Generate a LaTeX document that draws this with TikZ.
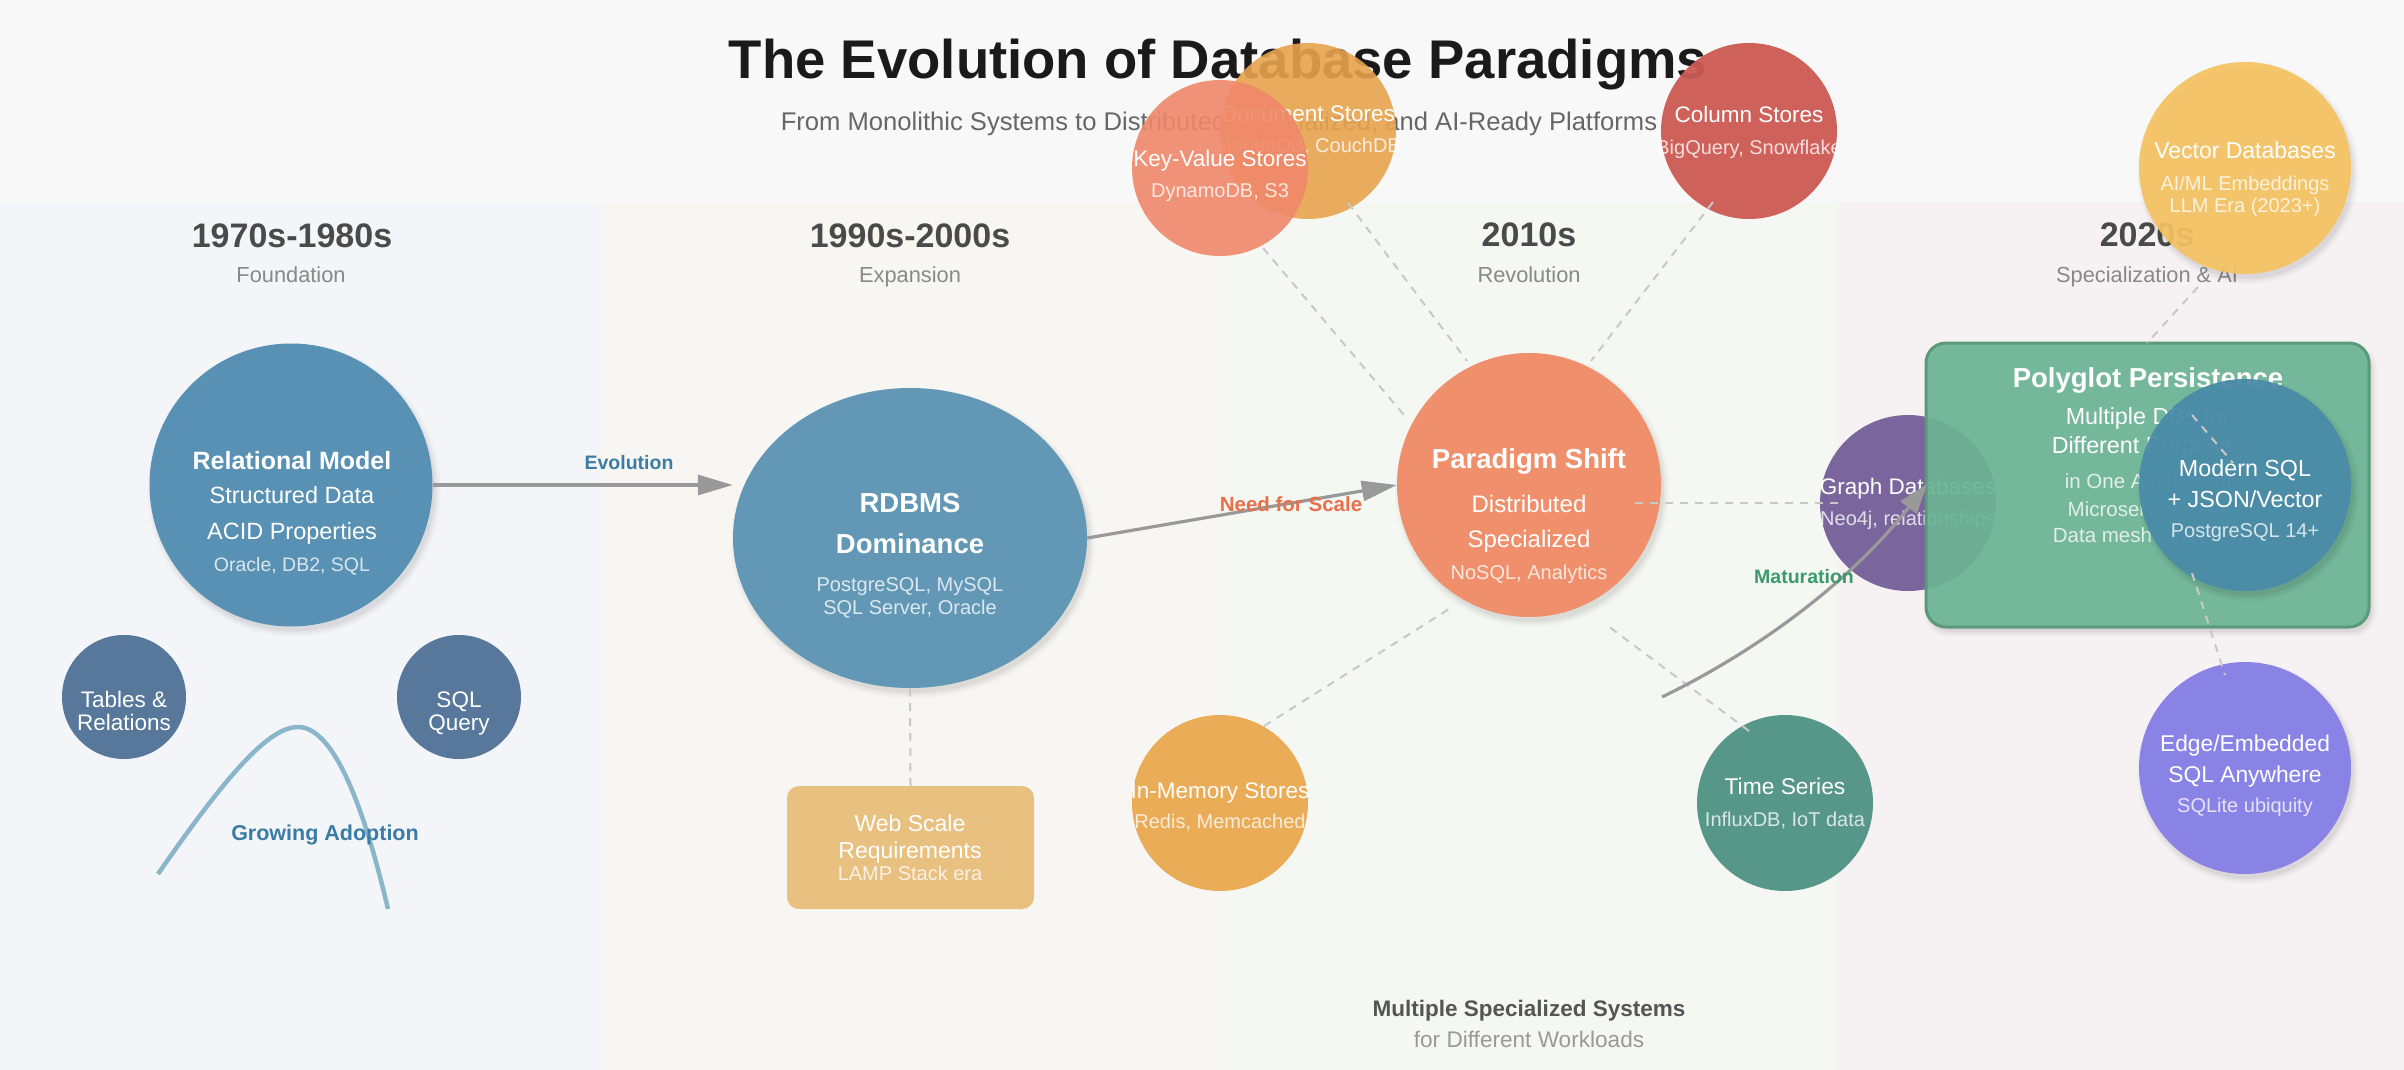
\documentclass[tikz,border=0pt]{standalone}
\usepackage{fontspec}
\setmainfont{Liberation Sans}
\usetikzlibrary{shapes.geometric,arrows.meta}
\newcommand\fsz[1]{\fontsize{#1}{#1}\selectfont}
\newcommand\shadcirc[3]{\foreach \k/\o in {5/0.025,2.5/0.035,0/0.05} {\fill[black, opacity=\o] (#1+3,#2+5) circle[radius=#3+\k];}}
\newcommand\shadell[4]{\foreach \k/\o in {5/0.025,2.5/0.035,0/0.05} {\fill[black, opacity=\o] (#1+3,#2+5) ellipse[x radius=#3+\k, y radius=#4+\k];}}
\newcommand\shadrect[4]{\foreach \k/\o in {5/0.025,2.5/0.035,0/0.05} {\fill[black, opacity=\o, rounded corners=20pt+\k pt] (#1+3-\k,#2+5-\k) rectangle (#3+3+\k,#4+5+\k);}}
\definecolor{hdrc}{HTML}{F8F8F8}
\definecolor{banda}{HTML}{F4F5F9}
\definecolor{bandb}{HTML}{F7F6F2}
\definecolor{bandc}{HTML}{F5F7F3}
\definecolor{bandd}{HTML}{F6F2F3}
\definecolor{titlec}{HTML}{1A1A1A}
\definecolor{subc}{HTML}{666666}
\definecolor{erac}{HTML}{4A4A4A}
\definecolor{erasc}{HTML}{888888}
\definecolor{relc}{HTML}{5891B3}
\definecolor{smallc}{HTML}{57789A}
\definecolor{rdbc}{HTML}{6298B6}
\definecolor{webc}{HTML}{E8C080}
\definecolor{psc}{HTML}{F08F6B}
\definecolor{docc}{HTML}{E8A34D}
\definecolor{kvc}{HTML}{F0886A}
\definecolor{colc}{HTML}{CC5A53}
\definecolor{memc}{HTML}{EAAC56}
\definecolor{tsc}{HTML}{56978A}
\definecolor{grc}{HTML}{7A669D}
\definecolor{polyc}{HTML}{6CB595}
\definecolor{polyd}{HTML}{5B9A78}
\definecolor{msqlc}{HTML}{4A8BA8}
\definecolor{vecc}{HTML}{F5C362}
\definecolor{edgec}{HTML}{8A83E6}
\definecolor{curvec}{HTML}{8AB6CC}
\definecolor{evoc}{HTML}{3A7CA5}
\definecolor{scalec}{HTML}{E8704A}
\definecolor{matc}{HTML}{3A9A6B}
\definecolor{arrowc}{HTML}{999999}
\definecolor{dashc}{HTML}{C8C8C8}
\definecolor{botc}{HTML}{555555}
\definecolor{botsc}{HTML}{999999}
\tikzset{
  bubble/.style={circle, inner sep=0pt, minimum size=#1},
  lbl/.style={anchor=base, inner sep=0pt},
  wt/.style={lbl, text=white},
  ws/.style={lbl, text=white, text opacity=0.78},
  dsh/.style={draw=dashc, line width=2pt, dash pattern=on 8pt off 7pt},
  garrow/.style={draw=arrowc, line width=3.2pt, -{Triangle[length=35pt,width=20pt]}},
  erah/.style={lbl, text=erac, font={\fsz{34}\bfseries}},
  eras/.style={lbl, text=erasc, font={\fsz{21.8}}},
}
\begin{document}
\begin{tikzpicture}[x=1pt,y=-1pt]
\useasboundingbox (0,0) rectangle (2404,1070);
% backgrounds
\fill[hdrc] (0,0) rectangle (2404,1070);
\fill[banda] (0,202) rectangle (601,1070);
\fill[bandb] (601,202) rectangle (1220,1070);
\fill[bandc] (1220,202) rectangle (1838,1070);
\fill[bandd] (1838,202) rectangle (2404,1070);
% title
\node[lbl, text=titlec, font={\fsz{54.5}\bfseries}] (title) at (1218,79) {The Evolution of Database Paradigms};
\node[lbl, text=subc, font={\fsz{25.6}}] (subtitle) at (1219,131) {From Monolithic Systems to Distributed, Specialized, and AI-Ready Platforms};
% era headings
\node[erah] (era1) at (292,247) {1970s-1980s};
\node[eras] (era1s) at (291,282) {Foundation};
\node[erah] (era2) at (910,247) {1990s-2000s};
\node[eras] (era2s) at (910,282) {Expansion};
\node[erah] (era3) at (1529,246) {2010s};
\node[eras] (era3s) at (1529,282) {Revolution};
\node[erah] (era4) at (2147,246) {2020s};
\node[eras] (era4s) at (2147,282) {Specialization \& AI};
% ---- 1970s
\shadcirc{291}{485}{141.5}
\node[bubble=283pt, fill=relc] (rel) at (291,485) {};
\node[wt, font={\fsz{25}\bfseries}] (relt1) at (292,469) {Relational Model};
\node[wt, font={\fsz{23.5}}] (relt2) at (292,503) {Structured Data};
\node[wt, font={\fsz{23.5}}] (relt3) at (292,539) {ACID Properties};
\node[ws, font={\fsz{19.5}}] (relt4) at (292,571) {Oracle, DB2, SQL};
\node[bubble=124pt, fill=smallc] (tab) at (124,697) {};
\node[wt, font={\fsz{22.5}}] (tabt1) at (124,707) {Tables \&};
\node[wt, font={\fsz{22.5}}] (tabt2) at (124,730) {Relations};
\node[bubble=124pt, fill=smallc] (sqlq) at (459,697) {};
\node[wt, font={\fsz{22.5}}] (sqlt1) at (459,707) {SQL};
\node[wt, font={\fsz{22.5}}] (sqlt2) at (459,730) {Query};
\draw[curvec, line width=4.5pt] (158,874) .. controls (230,770) and (270,727) .. (298,727) .. controls (330,727) and (360,790) .. (388,909);
\node[lbl, text=evoc, font={\fsz{21.5}\bfseries}] (grow) at (325,840) {Growing Adoption};
% ---- 1990s
\shadell{910}{538}{177}{150}
\node[ellipse, inner sep=0pt, minimum width=354pt, minimum height=300pt, fill=rdbc] (rdbms) at (910,538) {};
\node[wt, font={\fsz{27.5}\bfseries}] (rdbt1) at (910,512) {RDBMS};
\node[wt, font={\fsz{27.5}\bfseries}] (rdbt2) at (910,553) {Dominance};
\node[ws, font={\fsz{20}}] (rdbt3) at (910,591) {PostgreSQL, MySQL};
\node[ws, font={\fsz{20}}] (rdbt4) at (910,614) {SQL Server, Oracle};
\node[rectangle, rounded corners=12pt, minimum width=247pt, minimum height=123pt, fill=webc] (web) at (910.5,847.5) {};
\node[wt, font={\fsz{23}}] (webt1) at (910,831) {Web Scale};
\node[wt, font={\fsz{23}}] (webt2) at (910,858) {Requirements};
\node[ws, font={\fsz{20}}] (webt3) at (910,880) {LAMP Stack era};
% ---- 2010s
\shadcirc{1529}{485}{132}
\node[bubble=264pt, fill=psc] (ps) at (1529,485) {};
\node[wt, font={\fsz{27.5}\bfseries}] (pst1) at (1529,468) {Paradigm Shift};
\node[wt, font={\fsz{24}}] (pst2) at (1529,512) {Distributed};
\node[wt, font={\fsz{24}}] (pst3) at (1529,547) {Specialized};
\node[ws, font={\fsz{20}}] (pst4) at (1529,579) {NoSQL, Analytics};
\node[bubble=176pt, fill=docc, fill opacity=0.9] (doc) at (1308,131) {};
\node[wt, font={\fsz{22.5}}] (doct1) at (1308,122) {Document Stores};
\node[ws, font={\fsz{20}}] (doct2) at (1308,153) {MongoDB, CouchDB};
\node[bubble=176pt, fill=kvc, fill opacity=0.9] (kv) at (1220,168) {};
\node[wt, font={\fsz{22.5}}] (kvt1) at (1220,166) {Key-Value Stores};
\node[ws, font={\fsz{20}}] (kvt2) at (1220,197) {DynamoDB, S3};
\node[bubble=176pt, fill=colc, fill opacity=0.95] (col) at (1749,131) {};
\node[wt, font={\fsz{22.5}}] (colt1) at (1749,123) {Column Stores};
\node[ws, font={\fsz{20}}] (colt2) at (1749,155) {BigQuery, Snowflake};
\node[bubble=176pt, fill=memc] (mem) at (1220,803) {};
\node[wt, font={\fsz{22.5}}] (memt1) at (1220,798) {In-Memory Stores};
\node[ws, font={\fsz{20}}] (memt2) at (1220,828) {Redis, Memcached};
\node[bubble=176pt, fill=tsc] (ts) at (1785,803) {};
\node[wt, font={\fsz{22.8}}] (tst1) at (1785,794) {Time Series};
\node[ws, font={\fsz{20}}] (tst2) at (1785,826) {InfluxDB, IoT data};
\node[bubble=176pt, fill=grc] (graph) at (1908,503) {};
\node[wt, font={\fsz{22.5}}] (grt1) at (1908,494) {Graph Databases};
\node[ws, font={\fsz{20}}] (grt2) at (1908,525) {Neo4j, relationships};
% ---- 2020s
\shadrect{1926}{343}{2369}{627}
\node[rectangle, rounded corners=20pt, minimum width=443pt, minimum height=284pt, fill=polyc, fill opacity=0.92, draw=polyd, line width=3pt] (poly) at (2147.5,485) {};
\node[wt, font={\fsz{27.5}\bfseries}] (polyt1) at (2148,387) {Polyglot Persistence};
\node[wt, font={\fsz{23.3}}] (polyt2) at (2148,424) {Multiple DBs for};
\node[wt, font={\fsz{23.3}}] (polyt3) at (2148,453) {Different Purposes};
\node[ws, font={\fsz{20.5}}] (polyt4) at (2148,488) {in One Application};
\node[ws, font={\fsz{20.5}}] (polyt5) at (2148,516) {Microservices era};
\node[ws, font={\fsz{20.5}}] (polyt6) at (2148,542) {Data mesh approach};
\shadcirc{2245}{485}{106}
\node[bubble=212pt, fill=msqlc, fill opacity=0.95] (msql) at (2245,485) {};
\node[wt, font={\fsz{23.3}}] (msqlt1) at (2245,476) {Modern SQL};
\node[wt, font={\fsz{23.3}}] (msqlt2) at (2245,507) {+ JSON/Vector};
\node[ws, font={\fsz{20}}] (msqlt3) at (2245,537) {PostgreSQL 14+};
\shadcirc{2245}{168}{106}
\node[bubble=212pt, fill=vecc, fill opacity=0.93] (vec) at (2245,168) {};
\node[wt, font={\fsz{23}}] (vect1) at (2245,158) {Vector Databases};
\node[ws, font={\fsz{20}}] (vect2) at (2245,190) {AI/ML Embeddings};
\node[ws, font={\fsz{20}}] (vect3) at (2245,212) {LLM Era (2023+)};
\shadcirc{2245}{768}{106}
\node[bubble=212pt, fill=edgec] (edge) at (2245,768) {};
\node[wt, font={\fsz{22.8}}] (edget1) at (2245,751) {Edge/Embedded};
\node[wt, font={\fsz{22.8}}] (edget2) at (2245,782) {SQL Anywhere};
\node[ws, font={\fsz{20}}] (edget3) at (2245,812) {SQLite ubiquity};
% dashed connector end points
\coordinate (kvA) at (1263,248); \coordinate (kvB) at (1404,415);
\coordinate (docA) at (1348,203); \coordinate (docB) at (1467,361);
\coordinate (colA) at (1713,202); \coordinate (colB) at (1591,361);
\coordinate (memA) at (1264,726); \coordinate (memB) at (1449,609);
\coordinate (tsA) at (1749,731); \coordinate (tsB) at (1608,626);
\coordinate (grA) at (1840,503); \coordinate (grB) at (1635,503);
\coordinate (vecA) at (2198,287); \coordinate (vecB) at (2147,343);
\coordinate (msA) at (2192,415); \coordinate (msB) at (2233,463);
\coordinate (edA) at (2192,573); \coordinate (edB) at (2225,675);
\draw[dsh] (rdbms.south) -- (web.north);
\draw[dsh] (kvA) -- (kvB);
\draw[dsh] (docA) -- (docB);
\draw[dsh] (colA) -- (colB);
\draw[dsh] (memA) -- (memB);
\draw[dsh] (tsA) -- (tsB);
\draw[dsh] (grB) -- (grA);
\draw[dsh] (vecA) -- (vecB);
\draw[dsh] (msA) -- (msB);
\draw[dsh] (edA) -- (edB);
% arrows
\draw[garrow] (rel.east) -- (rel.east -| rdbms.west);
\node[lbl, text=evoc, font={\fsz{19.5}\bfseries}] (evo) at (629,469) {Evolution};
\draw[garrow] (rdbms.east) -- (ps.west);
\node[lbl, text=scalec, font={\fsz{20.5}\bfseries}] (scale) at (1291,511) {Need for Scale};
\coordinate (mat0) at (1662,697);
\coordinate (mat1) at (1927,484);
\draw[draw=arrowc, line width=3.2pt, -{Triangle[length=30pt,width=20pt]}] (mat0) .. controls (1767,646) and (1856,575) .. (mat1);
\node[lbl, text=matc, font={\fsz{19.5}\bfseries}] (mat) at (1804,583) {Maturation};
% bottom note
\node[lbl, text=botc, font={\fsz{22.5}\bfseries}] (bot1) at (1529,1016) {Multiple Specialized Systems};
\node[lbl, text=botsc, font={\fsz{22.6}}] (bot2) at (1529,1047) {for Different Workloads};
\end{tikzpicture}
\end{document}
